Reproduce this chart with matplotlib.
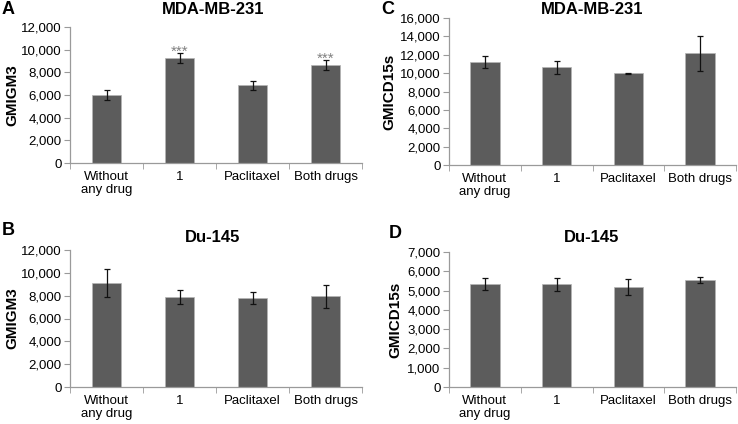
import numpy as np
import matplotlib.pyplot as plt
from matplotlib.ticker import FuncFormatter, MultipleLocator

plt.rcParams['font.family'] = ['Liberation Sans', 'DejaVu Sans']

categories = ["Without\nany drug", "1", "Paclitaxel", "Both drugs"]

a_vals = [6030, 9280, 6850, 8640]
a_err = [450, 470, 400, 450]
a_stars = ["", "***", "", "***"]

b_vals = [9100, 7870, 7800, 7930]
b_err = [1200, 620, 550, 980]

c_vals = [11220, 10620, 10000, 12150]
c_err = [680, 700, 50, 1900]

d_vals = [5350, 5320, 5180, 5540]
d_err = [320, 340, 420, 150]

bar_color = '#5c5c5c'
axis_color = '#9a9a9a'

W, H = 738, 424
fig = plt.figure(figsize=(W / 100, H / 100), dpi=100)


def px(x0, y_top, x1, y_bot):
    # pixel box -> figure fraction rect
    return [x0 / W, 1 - y_bot / H, (x1 - x0) / W, (y_bot - y_top) / H]


# letter, title, ylabel, values, errors, stars, ymax, step, axes box, title pos, letter pos, ylabel x
panels = [
    ("A", "MDA-MB-231", "GMIGM3", a_vals, a_err, a_stars, 12000, 2000,
     px(70, 27, 362, 163), (213, 10), (2, 10), 12),
    ("C", "MDA-MB-231", "GMICD15s", c_vals, c_err, None, 16000, 2000,
     px(449, 18, 736, 165), (592, 10), (381, 10), 389),
    ("B", "Du-145", "GMIGM3", b_vals, b_err, None, 12000, 2000,
     px(70, 250, 362, 387), (213, 237), (2, 231), 12),
    ("D", "Du-145", "GMICD15s", d_vals, d_err, None, 7000, 1000,
     px(449, 252, 736, 387), (592, 237), (389, 233), 395),
]

fmt = FuncFormatter(lambda v, p: f"{int(v):,}")

for letter, title, ylabel, vals, errs, stars, ymax, step, rect, tpos, lpos, ylx in panels:
    ax = fig.add_axes(rect)
    x = np.arange(len(categories))
    ax.bar(x, vals, width=0.41, color=bar_color, edgecolor='#b5b5b5', linewidth=0.5, zorder=2)
    ax.errorbar(x, vals, yerr=errs, fmt='none', ecolor='#111111', elinewidth=0.9,
                capsize=2.2, capthick=0.9, zorder=3)
    if stars:
        for xi, v, e, s in zip(x, vals, errs, stars):
            if s:
                ax.text(xi, v + e - 250, s, ha='center', va='baseline',
                        color='#808080', fontsize=11)
    ax.set_xlim(-0.5, len(categories) - 0.5)
    ax.set_ylim(0, ymax)
    ax.yaxis.set_major_locator(MultipleLocator(step))
    ax.yaxis.set_major_formatter(fmt)
    ax.set_xticks(x)
    ax.set_xticklabels(categories, fontsize=9.5, linespacing=1.05, va='top')
    ax.set_xticks(np.arange(-0.5, len(categories)), minor=True)
    ax.tick_params(axis='x', which='major', length=0, pad=6)
    ax.tick_params(axis='x', which='minor', length=4, color=axis_color, direction='out')
    ax.tick_params(axis='y', length=4, color=axis_color, labelsize=9.5, pad=2)
    for side in ['top', 'right']:
        ax.spines[side].set_visible(False)
    for side in ['left', 'bottom']:
        ax.spines[side].set_color(axis_color)
        ax.spines[side].set_linewidth(0.9)

    ax_mid = 1 - (rect[1] + rect[3] / 2)
    fig.text(ylx / W, 1 - ax_mid, ylabel, rotation=90, fontsize=11, fontweight='bold',
             ha='center', va='center')
    fig.text(tpos[0] / W, 1 - tpos[1] / H, title, fontsize=12, fontweight='bold',
             ha='center', va='center')
    fig.text(lpos[0] / W, 1 - lpos[1] / H, letter, fontsize=13, fontweight='bold',
             ha='left', va='center')

fig.savefig("out.png", dpi=100)
